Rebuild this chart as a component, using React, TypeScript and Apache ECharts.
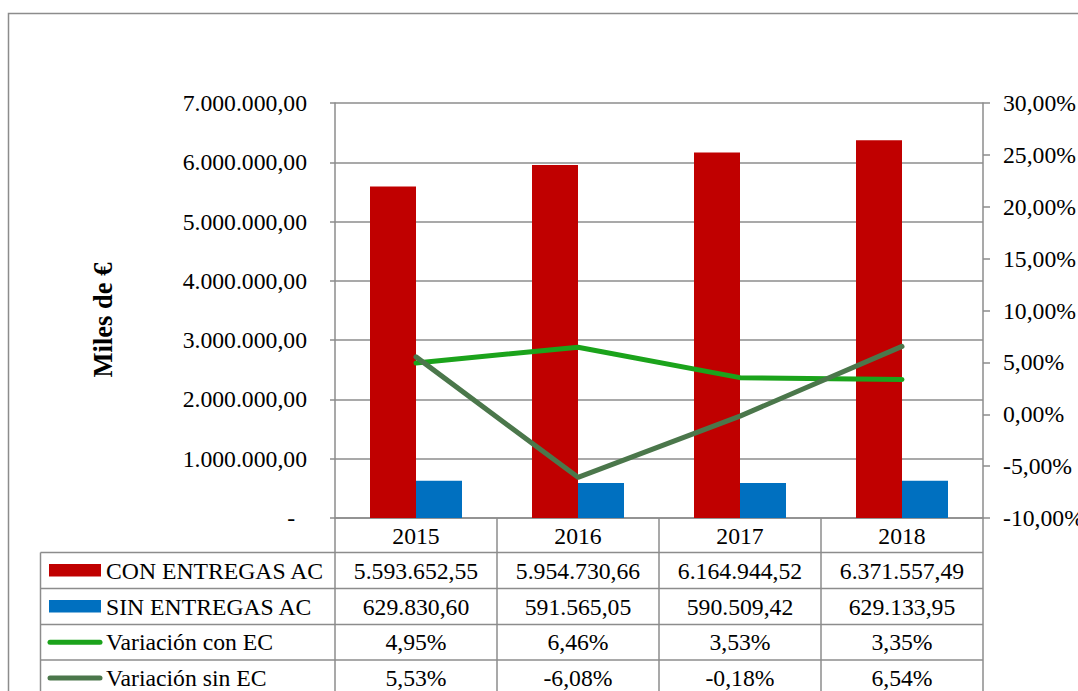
import React, { useEffect, useRef } from "react";
import * as echarts from "echarts";

// ---- data ----
const years = ["2015", "2016", "2017", "2018"];
const conEntregas = [5593652.55, 5954730.66, 6164944.52, 6371557.49];
const sinEntregas = [629830.6, 591565.05, 590509.42, 629133.95];
const variacionCon = [4.95, 6.46, 3.53, 3.35];
const variacionSin = [5.53, -6.08, -0.18, 6.54];
const seriesNames = ["CON ENTREGAS AC", "SIN ENTREGAS AC", "Variación con EC", "Variación sin EC"];
const leftAxis = { min: 0, max: 7000000, interval: 1000000 };
const rightAxis = { min: -10, max: 30, interval: 5 };
const yTitle = "Miles de €";

// ---- styles ----
const FONT = "Liberation Serif";
const FS = 23.7;
const GRAY = "#8c8c8c";
const COLORS = ["#C00000", "#0070C0", "#1BA31B", "#4B774B"];
const W = 1078;
const H = 691;
const GL = 335;
const GR = 983;
const GT = 103;
const GB = 518;
const ROW_LINES = [552.5, 588.5, 624.5, 660, 696];
const HEADER_CENTER = 535.5;

function fmtNum(v: number): string {
  const neg = v < 0;
  const s = Math.abs(v).toFixed(2);
  const [i, f] = s.split(".");
  const ip = i.replace(/\B(?=(\d{3})+(?!\d))/g, ".");
  return (neg ? "-" : "") + ip + "," + f;
}
const fmtPct = (v: number) => fmtNum(v) + "%";

export default function App() {
  const ref = useRef<HTMLDivElement>(null);
  useEffect(() => {
    if (!ref.current) return;
    const chart = echarts.init(ref.current, null, { renderer: "svg" });

    const rowCenters = ROW_LINES.slice(0, 4).map((y, i) => (y + ROW_LINES[i + 1]) / 2);
    const rowData = [
      conEntregas.map(fmtNum),
      sinEntregas.map(fmtNum),
      variacionCon.map(fmtPct),
      variacionSin.map(fmtPct),
    ];
    const xAxes: any[] = [
      { data: years, center: HEADER_CENTER },
      ...rowData.map((d, i) => ({ data: d, center: rowCenters[i] })),
    ].map((r, i) => ({
      type: "category",
      data: r.data,
      position: "bottom",
      gridIndex: 0,
      axisLine: { show: i === 0, lineStyle: { color: GRAY, width: 1.5 } },
      axisTick: { show: false },
      splitLine: { show: false },
      axisLabel: {
        interval: 0,
        margin: r.center - GB,
        verticalAlign: "middle",
        fontSize: FS,
        fontFamily: FONT,
        color: "#000",
      },
    }));

    const catW = (GR - GL) / years.length;
    const graphics: any[] = [];
    // outer frame
    graphics.push({
      type: "rect",
      silent: true,
      shape: { x: 8.5, y: 13.5, width: 1300, height: 1000 },
      style: { fill: "none", stroke: GRAY, lineWidth: 1.5 },
    });
    // y title
    graphics.push({
      type: "text",
      x: 103,
      y: 320,
      rotation: Math.PI / 2,
      style: {
        text: yTitle,
        fontSize: 26.5,
        fontWeight: "bold",
        fontFamily: FONT,
        fill: "#000",
        align: "center",
        verticalAlign: "middle",
      },
    });
    // data table: vertical lines
    for (let i = 0; i <= years.length; i++) {
      const x = GL + i * catW;
      graphics.push({
        type: "line",
        silent: true,
        shape: { x1: x, y1: GB, x2: x, y2: H + 10 },
        style: { stroke: GRAY, lineWidth: 1.5 },
      });
    }
    graphics.push({
      type: "line",
      silent: true,
      shape: { x1: 40.5, y1: ROW_LINES[0], x2: 40.5, y2: H + 10 },
      style: { stroke: GRAY, lineWidth: 1.5 },
    });
    // data table: horizontal lines
    ROW_LINES.forEach((y) => {
      graphics.push({
        type: "line",
        silent: true,
        shape: { x1: 40.5, y1: y, x2: GR, y2: y },
        style: { stroke: GRAY, lineWidth: 1.5 },
      });
    });
    // legend keys + names in the table
    seriesNames.forEach((name, i) => {
      const cy = rowCenters[i];
      if (i < 2) {
        graphics.push({
          type: "rect",
          shape: { x: 49, y: cy - 6.5, width: 52, height: 12.5 },
          style: { fill: COLORS[i] },
        });
      } else {
        graphics.push({
          type: "line",
          shape: { x1: 50, y1: cy, x2: 100, y2: cy },
          style: { stroke: COLORS[i], lineWidth: 5, lineCap: "round" },
        });
      }
      graphics.push({
        type: "text",
        x: 106,
        y: cy,
        style: {
          text: name,
          fontSize: FS,
          fontFamily: FONT,
          fill: "#000",
          align: "left",
          verticalAlign: "middle",
        },
      });
    });

    chart.setOption({
      animation: false,
      textStyle: { fontFamily: FONT },
      grid: {
        left: GL,
        right: W - GR,
        top: GT,
        bottom: H - GB,
        containLabel: false,
        outerBoundsMode: "none",
      },
      xAxis: xAxes,
      yAxis: [
        {
          type: "value",
          position: "left",
          min: leftAxis.min,
          max: leftAxis.max,
          interval: leftAxis.interval,
          axisLine: { show: true, lineStyle: { color: GRAY, width: 1.5 } },
          axisTick: { show: true, length: 5, lineStyle: { color: GRAY, width: 1.5 } },
          splitLine: { show: true, lineStyle: { color: GRAY, width: 1.5 } },
          axisLabel: {
            margin: 28,
            fontSize: FS,
            fontFamily: FONT,
            color: "#000",
            formatter: (v: number) => (v === 0 ? "-\u00a0\u00a0" : fmtNum(v)),
          },
        },
        {
          type: "value",
          position: "right",
          min: rightAxis.min,
          max: rightAxis.max,
          interval: rightAxis.interval,
          axisLine: { show: true, lineStyle: { color: GRAY, width: 1.5 } },
          axisTick: { show: true, length: 7, lineStyle: { color: GRAY, width: 1.5 } },
          splitLine: { show: false },
          axisLabel: {
            margin: 20,
            fontSize: FS,
            fontFamily: FONT,
            color: "#000",
            formatter: (v: number) => fmtPct(v),
          },
        },
      ],
      series: [
        { name: seriesNames[0], type: "bar", data: conEntregas, barWidth: 46, barGap: "0%", itemStyle: { color: COLORS[0] } },
        { name: seriesNames[1], type: "bar", data: sinEntregas, barWidth: 46, barGap: "0%", itemStyle: { color: COLORS[1] } },
        {
          name: seriesNames[2], type: "line", yAxisIndex: 1, data: variacionCon, symbol: "none",
          lineStyle: { color: COLORS[2], width: 5, cap: "round", join: "round" }, itemStyle: { color: COLORS[2] },
        },
        {
          name: seriesNames[3], type: "line", yAxisIndex: 1, data: variacionSin, symbol: "none",
          lineStyle: { color: COLORS[3], width: 5, cap: "round", join: "round" }, itemStyle: { color: COLORS[3] },
        },
      ],
      graphic: graphics,
    });
    return () => chart.dispose();
  }, []);
  return (
    <div
      ref={ref}
      style={{ position: "absolute", left: 0, top: 0, width: W, height: H, background: "#fff" }}
    />
  );
}
